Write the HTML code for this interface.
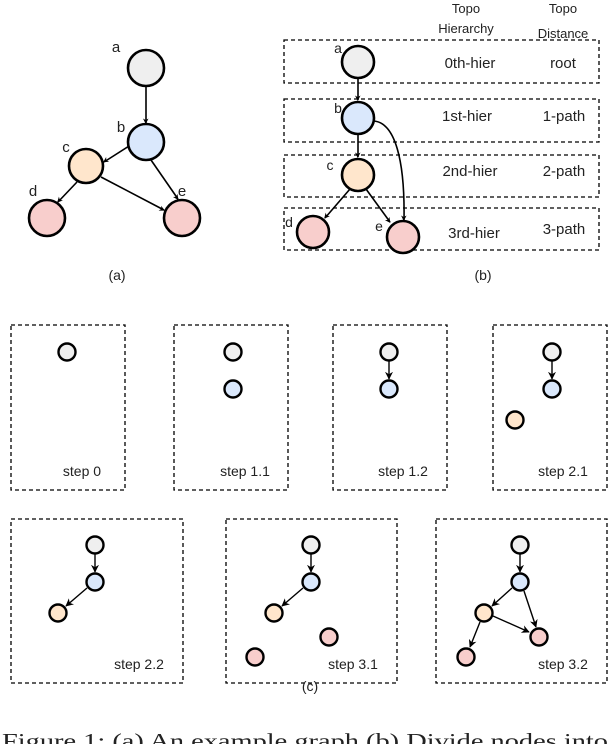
<!DOCTYPE html>
<html><head><meta charset="utf-8"><style>
html,body{margin:0;padding:0;background:#fff;width:610px;height:744px;overflow:hidden}
svg{display:block}
text{font-family:"Liberation Sans",sans-serif;fill:#222}
</style></head><body>
<svg width="610" height="744" viewBox="0 0 610 744" xmlns="http://www.w3.org/2000/svg">
<defs>
<marker id="ar" viewBox="0 0 10 10" refX="9" refY="5" markerWidth="5" markerHeight="5" orient="auto" markerUnits="userSpaceOnUse" style="overflow:visible">
<path d="M0,0 L10,5 L0,10 L3,5 z" fill="#000" transform="scale(1.1)"/>
</marker>
<marker id="as" viewBox="0 0 10 10" refX="9" refY="5" markerWidth="8" markerHeight="8" orient="auto" markerUnits="userSpaceOnUse">
<path d="M0,0 L10,5 L0,10 L3,5 z" fill="#000"/>
</marker>
</defs>
<g stroke="#000" fill="none">
<!-- (a) edges -->
<g stroke-width="1.6">
<line x1="146" y1="86" x2="146" y2="123" marker-end="url(#ar)"/>
<line x1="129" y1="146" x2="104" y2="162" marker-end="url(#ar)"/>
<line x1="151" y1="160" x2="178" y2="199" marker-end="url(#ar)"/>
<line x1="101" y1="177" x2="164" y2="210" marker-end="url(#ar)"/>
<line x1="77" y1="182" x2="58" y2="202" marker-end="url(#ar)"/>
</g>
<g stroke-width="2.6">
<circle cx="146" cy="68" r="18" fill="#efefef"/>
<circle cx="146" cy="142" r="18" fill="#dae8fc"/>
<circle cx="86" cy="166" r="17" fill="#ffe6cc"/>
<circle cx="47" cy="218" r="18" fill="#f8cecc"/>
<circle cx="182" cy="218" r="18" fill="#f8cecc"/>
</g>
<!-- (b) boxes -->
<g stroke-width="1.3" stroke-dasharray="4,3">
<rect x="284" y="40" width="315" height="43"/>
<rect x="284" y="99" width="315" height="43"/>
<rect x="284" y="155" width="315" height="42"/>
<rect x="284" y="208" width="315" height="42"/>
</g>
<g stroke-width="1.6">
<line x1="358" y1="78" x2="358" y2="100" marker-end="url(#ar)"/>
<line x1="358" y1="134" x2="358" y2="157" marker-end="url(#ar)"/>
<line x1="350" y1="189" x2="325" y2="218" marker-end="url(#ar)"/>
<line x1="366" y1="189" x2="390" y2="222" marker-end="url(#ar)"/>
<path d="M374,121 C395,123 405,160 404,220" marker-end="url(#ar)"/>
</g>
<g stroke-width="2.6">
<circle cx="358" cy="62" r="16" fill="#efefef"/>
<circle cx="358" cy="118" r="16" fill="#dae8fc"/>
<circle cx="358" cy="175" r="16" fill="#ffe6cc"/>
<circle cx="313" cy="232" r="16" fill="#f8cecc"/>
<circle cx="403" cy="237" r="16" fill="#f8cecc"/>
</g>
<!-- (c) boxes -->
<g stroke-width="1.3" stroke-dasharray="4,3">
<rect x="11" y="325" width="114" height="165"/>
<rect x="174" y="325" width="114" height="165"/>
<rect x="333" y="325" width="114" height="165"/>
<rect x="493" y="325" width="114" height="165"/>
<rect x="11" y="519" width="172" height="164"/>
<rect x="226" y="519" width="171" height="164"/>
<rect x="436" y="519" width="171" height="164"/>
</g>
<g stroke-width="1.4">
<line x1="389" y1="361" x2="389" y2="379" marker-end="url(#as)"/>
<line x1="552" y1="361" x2="552" y2="379" marker-end="url(#as)"/>
<line x1="95" y1="554" x2="95" y2="572" marker-end="url(#as)"/>
<line x1="311" y1="554" x2="311" y2="572" marker-end="url(#as)"/>
<line x1="520" y1="554" x2="520" y2="572" marker-end="url(#as)"/>
<line x1="87" y1="588" x2="66" y2="606" marker-end="url(#as)"/>
<line x1="303" y1="588" x2="282" y2="606" marker-end="url(#as)"/>
<line x1="512" y1="588" x2="492" y2="606" marker-end="url(#as)"/>
<line x1="524" y1="591" x2="536" y2="627" marker-end="url(#as)"/>
<line x1="493" y1="616" x2="529" y2="632" marker-end="url(#as)"/>
<line x1="480" y1="622" x2="470" y2="647" marker-end="url(#as)"/>
</g>
<g stroke-width="2.4">
<circle cx="67" cy="352" r="8.5" fill="#efefef"/>
<circle cx="233" cy="352" r="8.5" fill="#efefef"/>
<circle cx="233" cy="389" r="8.5" fill="#dae8fc"/>
<circle cx="389" cy="352" r="8.5" fill="#efefef"/>
<circle cx="389" cy="389" r="8.5" fill="#dae8fc"/>
<circle cx="552" cy="352" r="8.5" fill="#efefef"/>
<circle cx="552" cy="389" r="8.5" fill="#dae8fc"/>
<circle cx="515" cy="420" r="8.5" fill="#ffe6cc"/>
<circle cx="95" cy="545" r="8.5" fill="#efefef"/>
<circle cx="95" cy="582" r="8.5" fill="#dae8fc"/>
<circle cx="58" cy="613" r="8.5" fill="#ffe6cc"/>
<circle cx="311" cy="545" r="8.5" fill="#efefef"/>
<circle cx="311" cy="582" r="8.5" fill="#dae8fc"/>
<circle cx="274" cy="613" r="8.5" fill="#ffe6cc"/>
<circle cx="329" cy="637" r="8.5" fill="#f8cecc"/>
<circle cx="255" cy="657" r="8.5" fill="#f8cecc"/>
<circle cx="520" cy="545" r="8.5" fill="#efefef"/>
<circle cx="520" cy="582" r="8.5" fill="#dae8fc"/>
<circle cx="484" cy="613" r="8.5" fill="#ffe6cc"/>
<circle cx="539" cy="637" r="8.5" fill="#f8cecc"/>
<circle cx="466" cy="657" r="8.5" fill="#f8cecc"/>
</g>
</g>
<!-- text (a) -->
<g font-size="15">
<text x="116" y="52" text-anchor="middle">a</text>
<text x="121" y="132" text-anchor="middle">b</text>
<text x="66" y="152" text-anchor="middle">c</text>
<text x="33" y="196" text-anchor="middle">d</text>
<text x="182" y="196" text-anchor="middle">e</text>
</g>
<g font-size="14" text-anchor="middle">
<text x="117" y="280">(a)</text>
<text x="483" y="280">(b)</text>
<text x="338" y="53">a</text>
<text x="338" y="113">b</text>
<text x="330" y="170">c</text>
<text x="289" y="227">d</text>
<text x="379" y="231">e</text>
<text x="466" y="13" font-size="13">Topo</text>
<text x="466" y="33" font-size="13">Hierarchy</text>
<text x="563" y="13" font-size="13">Topo</text>
<text x="563" y="38" font-size="13">Distance</text>
<text x="470" y="68" font-size="15">0th-hier</text>
<text x="563" y="68" font-size="15">root</text>
<text x="467" y="121" font-size="15">1st-hier</text>
<text x="564" y="121" font-size="15">1-path</text>
<text x="470" y="176" font-size="15">2nd-hier</text>
<text x="564" y="176" font-size="15">2-path</text>
<text x="474" y="238" font-size="15">3rd-hier</text>
<text x="564" y="234" font-size="15">3-path</text>
<text x="82" y="476">step 0</text>
<text x="245" y="476">step 1.1</text>
<text x="403" y="476">step 1.2</text>
<text x="563" y="476">step 2.1</text>
<text x="139" y="669">step 2.2</text>
<text x="353" y="669">step 3.1</text>
<text x="563" y="669">step 3.2</text>
<text x="310" y="691">(c)</text>
</g>
<text x="2" y="748" font-size="21" style="font-family:'Liberation Serif',serif" textLength="606" lengthAdjust="spacingAndGlyphs">Figure 1:  (a) An example graph (b) Divide nodes into</text>
</svg>
</body></html>
